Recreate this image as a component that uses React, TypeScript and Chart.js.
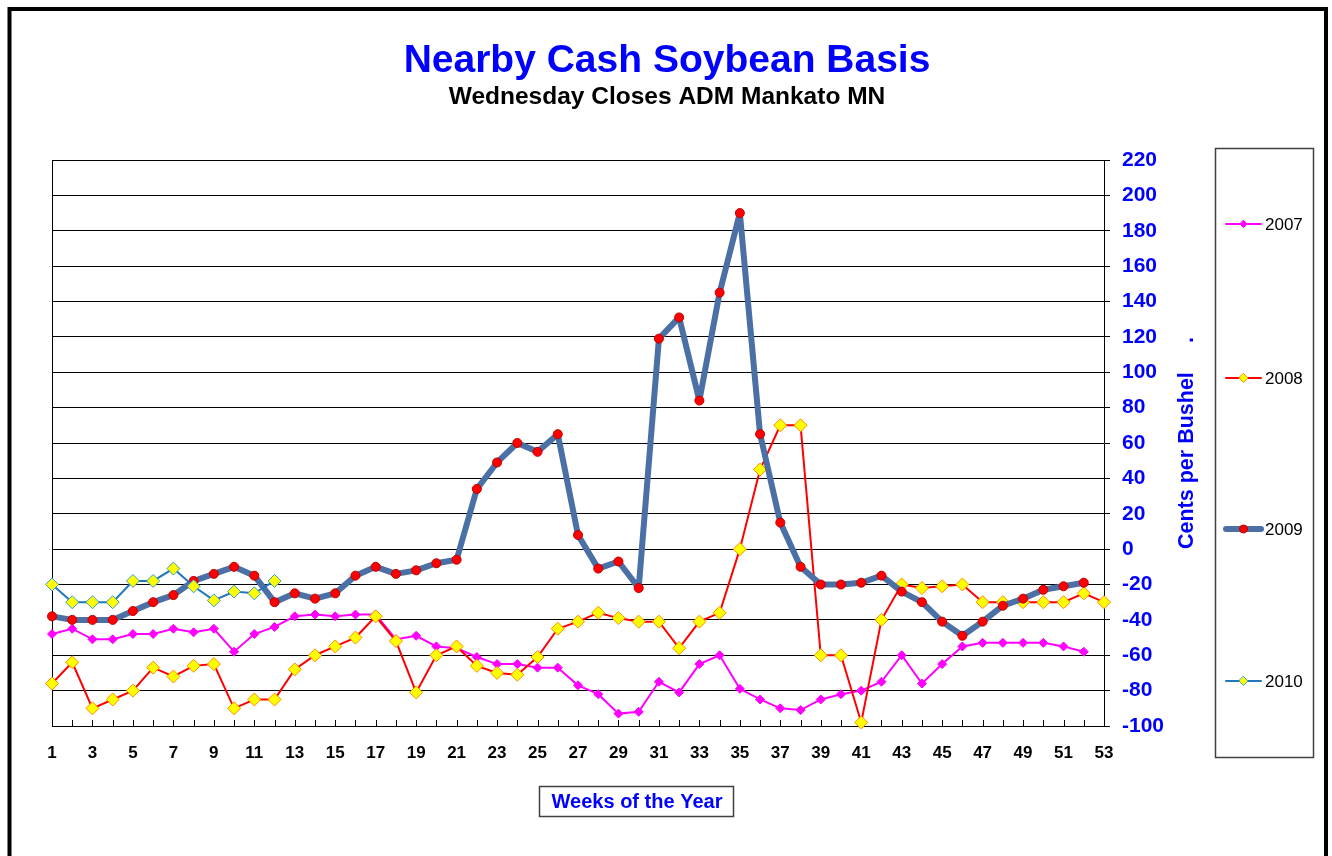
import { useEffect, useRef } from 'react';
import { Chart, registerables } from 'chart.js';

Chart.register(...registerables);

const weeks = ['1','2','3','4','5','6','7','8','9','10','11','12','13','14','15','16','17','18','19','20','21','22','23','24','25','26','27','28','29','30','31','32','33','34','35','36','37','38','39','40','41','42','43','44','45','46','47','48','49','50','51','52','53'];

const yTickValues = [-100, -80, -60, -40, -20, 0, 20, 40, 60, 80, 100, 120, 140, 160, 180, 200, 220];

const seriesNames = ['2007', '2008', '2009', '2010'];

const basis2007 = [-48,-45,-51,-51,-48,-48,-45,-47,-45,-58,-48,-44,-38,-37,-38,-37,-37,-51,-49,-55,-56,-61,-65,-65,-67,-67,-77,-82,-93,-92,-75,-81,-65,-60,-79,-85,-90,-91,-85,-82,-80,-75,-60,-76,-65,-55,-53,-53,-53,-53,-55,-58];
const basis2008 = [-76,-64,-90,-85,-80,-67,-72,-66,-65,-90,-85,-85,-68,-60,-55,-50,-38,-52,-81,-60,-55,-66,-70,-71,-61,-45,-41,-36,-39,-41,-41,-56,-41,-36,0,45,70,70,-60,-60,-98,-40,-20,-22,-21,-20,-30,-30,-30,-30,-30,-25,-30];
const basis2009 = [-38,-40,-40,-40,-35,-30,-26,-18,-14,-10,-15,-30,-25,-28,-25,-15,-10,-14,-12,-8,-6,34,49,60,55,65,8,-11,-7,-22,119,131,84,145,190,65,15,-10,-20,-20,-19,-15,-24,-30,-41,-49,-41,-32,-28,-23,-21,-19];
const basis2010 = [-20,-30,-30,-30,-18,-18,-11,-21,-29,-24,-25,-18];

const FONT = '"Liberation Sans", Arial, sans-serif';

const C2007 = '#FF00FF';
const C2008 = '#FF0000';
const C2009 = '#4A70A6';
const C2010 = '#1E78BE';

function diamond(ctx: CanvasRenderingContext2D, x: number, y: number, r: number, fill: string, stroke: string) {
  ctx.beginPath();
  ctx.moveTo(x, y - r);
  ctx.lineTo(x + r, y);
  ctx.lineTo(x, y + r);
  ctx.lineTo(x - r, y);
  ctx.closePath();
  ctx.fillStyle = fill;
  ctx.fill();
  ctx.lineWidth = 1;
  ctx.strokeStyle = stroke;
  ctx.stroke();
}

function circle(ctx: CanvasRenderingContext2D, x: number, y: number, r: number, fill: string, stroke: string) {
  ctx.beginPath();
  ctx.arc(x, y, r, 0, Math.PI * 2);
  ctx.fillStyle = fill;
  ctx.fill();
  ctx.lineWidth = 1;
  ctx.strokeStyle = stroke;
  ctx.stroke();
}

const decoPlugin = {
  id: 'deco',
  beforeDraw(chart: any) {
    const ctx = chart.ctx as CanvasRenderingContext2D;
    ctx.save();
    ctx.fillStyle = '#FFFFFF';
    ctx.fillRect(0, 0, chart.width, chart.height);
    ctx.restore();
  },
  beforeDatasetsDraw(chart: any) {
    const ctx = chart.ctx as CanvasRenderingContext2D;
    const area = chart.chartArea;
    const xs = chart.scales.x;
    ctx.save();
    ctx.strokeStyle = '#000000';
    ctx.lineWidth = 1;
    ctx.beginPath();
    ctx.moveTo(Math.round(area.left) + 0.5, area.top);
    ctx.lineTo(Math.round(area.left) + 0.5, area.bottom);
    ctx.stroke();
    for (let i = 0; i < weeks.length; i++) {
      const px = Math.round(xs.getPixelForValue(i)) + 0.5;
      ctx.beginPath();
      ctx.moveTo(px, area.bottom - 6);
      ctx.lineTo(px, area.bottom);
      ctx.stroke();
    }
    ctx.restore();
  },
  afterDraw(chart: any) {
    const ctx = chart.ctx as CanvasRenderingContext2D;
    const area = chart.chartArea;
    ctx.save();
    ctx.strokeStyle = '#000000';
    ctx.lineWidth = 4;
    ctx.beginPath();
    ctx.moveTo(9.5, 900);
    ctx.lineTo(9.5, 9);
    ctx.lineTo(1326, 9);
    ctx.lineTo(1326, 900);
    ctx.stroke();

    ctx.textAlign = 'center';
    ctx.textBaseline = 'alphabetic';
    ctx.fillStyle = '#0000FF';
    ctx.font = `bold 39px ${FONT}`;
    ctx.fillText('Nearby Cash Soybean Basis', 667, 72);
    ctx.fillStyle = '#000000';
    ctx.font = `bold 24.5px ${FONT}`;
    ctx.fillText('Wednesday Closes ADM Mankato MN', 667, 104);

    ctx.save();
    ctx.translate(1193, (area.top + area.bottom) / 2);
    ctx.rotate(-Math.PI / 2);
    ctx.fillStyle = '#0000FF';
    ctx.font = `bold 21.5px ${FONT}`;
    ctx.textAlign = 'left';
    ctx.textBaseline = 'alphabetic';
    ctx.fillText('Cents per Bushel', -106, 0);
    ctx.fillText('.', 100, 0);
    ctx.restore();

    ctx.strokeStyle = '#404040';
    ctx.lineWidth = 1.5;
    ctx.strokeRect(539.5, 786.5, 194, 30);
    ctx.fillStyle = '#0000FF';
    ctx.font = `bold 20px ${FONT}`;
    ctx.textAlign = 'center';
    ctx.textBaseline = 'middle';
    ctx.fillText('Weeks of the Year', 637, 802);

    ctx.strokeStyle = '#404040';
    ctx.lineWidth = 1.5;
    ctx.strokeRect(1215.5, 148.5, 98, 609);
    const legendY = [224, 378, 529, 681];
    ctx.lineCap = 'round';
    for (let i = 0; i < seriesNames.length; i++) {
      const y = legendY[i];
      const x0 = 1226, x1 = 1261, xm = 1243.5;
      ctx.beginPath();
      ctx.moveTo(x0, y);
      ctx.lineTo(x1, y);
      if (i === 0) { ctx.strokeStyle = C2007; ctx.lineWidth = 2; }
      if (i === 1) { ctx.strokeStyle = C2008; ctx.lineWidth = 2; }
      if (i === 2) { ctx.strokeStyle = C2009; ctx.lineWidth = 6; }
      if (i === 3) { ctx.strokeStyle = C2010; ctx.lineWidth = 2; }
      ctx.stroke();
      if (i === 0) diamond(ctx, xm, y, 3.5, C2007, C2007);
      if (i === 1) diamond(ctx, xm, y, 4.5, '#FFFF00', '#FF8C00');
      if (i === 2) circle(ctx, xm, y, 4, '#FF0000', '#C00000');
      if (i === 3) diamond(ctx, xm, y, 4.5, '#FFFF00', '#3A9AC8');
      ctx.fillStyle = '#000000';
      ctx.font = `17px ${FONT}`;
      ctx.textAlign = 'left';
      ctx.textBaseline = 'middle';
      ctx.fillText(seriesNames[i], 1265, y + 1);
    }
    ctx.restore();
  },
};

export default function App() {
  const ref = useRef<HTMLCanvasElement | null>(null);

  useEffect(() => {
    if (!ref.current) return;
    const chart = new Chart(ref.current, {
      type: 'line',
      data: {
        labels: weeks,
        datasets: [
          {
            label: seriesNames[0],
            data: basis2007,
            borderColor: C2007,
            backgroundColor: C2007,
            borderWidth: 2,
            pointStyle: 'rectRot',
            pointRadius: 4.5,
            pointBackgroundColor: C2007,
            pointBorderColor: C2007,
            pointBorderWidth: 1,
            tension: 0,
            clip: false,
            order: 4,
          },
          {
            label: seriesNames[1],
            data: basis2008,
            borderColor: C2008,
            backgroundColor: '#FFFF00',
            borderWidth: 2,
            pointStyle: 'rectRot',
            pointRadius: 6.5,
            pointBackgroundColor: '#FFFF00',
            pointBorderColor: '#FF8C00',
            pointBorderWidth: 1,
            tension: 0,
            clip: false,
            order: 3,
          },
          {
            label: seriesNames[2],
            data: basis2009,
            borderColor: C2009,
            backgroundColor: '#FF0000',
            borderWidth: 6,
            borderJoinStyle: 'round',
            borderCapStyle: 'round',
            pointStyle: 'circle',
            pointRadius: 4.5,
            pointBackgroundColor: '#FF0000',
            pointBorderColor: '#C00000',
            pointBorderWidth: 1,
            tension: 0,
            clip: false,
            order: 2,
          },
          {
            label: seriesNames[3],
            data: basis2010,
            borderColor: C2010,
            backgroundColor: '#FFFF00',
            borderWidth: 2,
            pointStyle: 'rectRot',
            pointRadius: 6.5,
            pointBackgroundColor: '#FFFF00',
            pointBorderColor: '#3A9AC8',
            pointBorderWidth: 1,
            tension: 0,
            clip: false,
            order: 1,
          },
        ] as any,
      },
      options: {
        animation: false,
        responsive: false,
        devicePixelRatio: 1,
        layout: { padding: { left: 52, top: 160, right: 108, bottom: 90 } },
        plugins: {
          legend: { display: false },
          title: { display: false },
          tooltip: { enabled: false },
        },
        scales: {
          x: {
            type: 'category',
            offset: false,
            grid: { display: false, drawTicks: false },
            border: { display: true, color: '#000000', width: 1 },
            ticks: {
              autoSkip: false,
              maxRotation: 0,
              minRotation: 0,
              padding: 17,
              color: '#000000',
              font: { family: FONT, size: 17, weight: 'bold' },
              callback: (_v: any, i: number) => (i % 2 === 0 ? weeks[i] : ''),
            },
            afterFit: (s: any) => { s.height = 40; },
          },
          y: {
            type: 'linear',
            position: 'right',
            min: yTickValues[0],
            max: yTickValues[yTickValues.length - 1],
            afterBuildTicks: (s: any) => { s.ticks = yTickValues.map((v) => ({ value: v })); },
            grid: { color: '#000000', lineWidth: 1, drawTicks: true, tickLength: 6, tickColor: '#000000' },
            border: { display: true, color: '#000000', width: 1 },
            ticks: {
              padding: 12,
              color: '#0000FF',
              font: { family: FONT, size: 21, weight: 'bold' },
              callback: (v: any) => String(v),
            },
            afterFit: (s: any) => { s.width = 120; },
          },
        },
      } as any,
      plugins: [decoPlugin],
    });
    return () => chart.destroy();
  }, []);

  return (
    <div style={{ position: 'absolute', left: 0, top: 0, width: 1332, height: 856, background: '#fff' }}>
      <canvas ref={ref} width={1332} height={856} style={{ display: 'block', width: 1332, height: 856 }} />
    </div>
  );
}
